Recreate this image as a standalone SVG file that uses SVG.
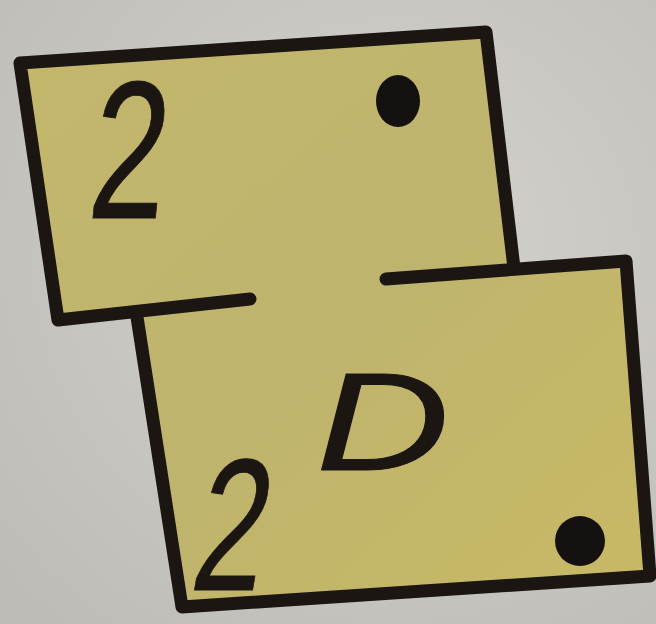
<svg xmlns="http://www.w3.org/2000/svg" width="656" height="624" viewBox="0 0 656 624">
<defs>
<style>
.ln{fill:none;stroke:#1b1612;stroke-width:13;stroke-linecap:round;stroke-linejoin:round}
.hw{fill:#1b1612;stroke:#1b1612;stroke-width:1;font-family:"Liberation Sans",Arial,sans-serif}
</style>
<radialGradient id="bg" cx="0.6" cy="0.4" r="0.8">
<stop offset="0" stop-color="#d3d2cc"/>
<stop offset="1" stop-color="#bdbcb7"/>
</radialGradient>
<linearGradient id="fill" x1="0" y1="0" x2="1" y2="1">
<stop offset="0" stop-color="#c3b76c"/>
<stop offset="0.5" stop-color="#bfb46e"/>
<stop offset="1" stop-color="#c8b964"/>
</linearGradient>
</defs>
<rect width="656" height="624" fill="url(#bg)"/>
<polygon points="24,66 482,37 510,270 622,265 645,574 188,601 140,318 60,316" fill="url(#fill)"/>
<g id="top-card">
<path class="ln" d="M250,299 L58,320 L20,63 L486,32 L514,268"/>
<text class="hw" x="0" y="0" font-size="196" transform="translate(86,218) scale(0.7,1) skewX(-8)">2</text>
<ellipse cx="398" cy="101" rx="22" ry="26" fill="#141110"/>
</g>
<g id="bottom-card">
<path class="ln" d="M386,279 L626,261 L650,576 L182,607 L137,317"/>
<text class="hw" x="0" y="0" font-size="188" transform="translate(188,590) scale(0.68,1) skewX(-14)">2</text>
<text class="hw" x="0" y="0" font-size="140" font-style="italic" transform="translate(316,470) scale(1.32,1)">D</text>
<circle cx="580" cy="541" r="25" fill="#141110"/>
</g>
</svg>
